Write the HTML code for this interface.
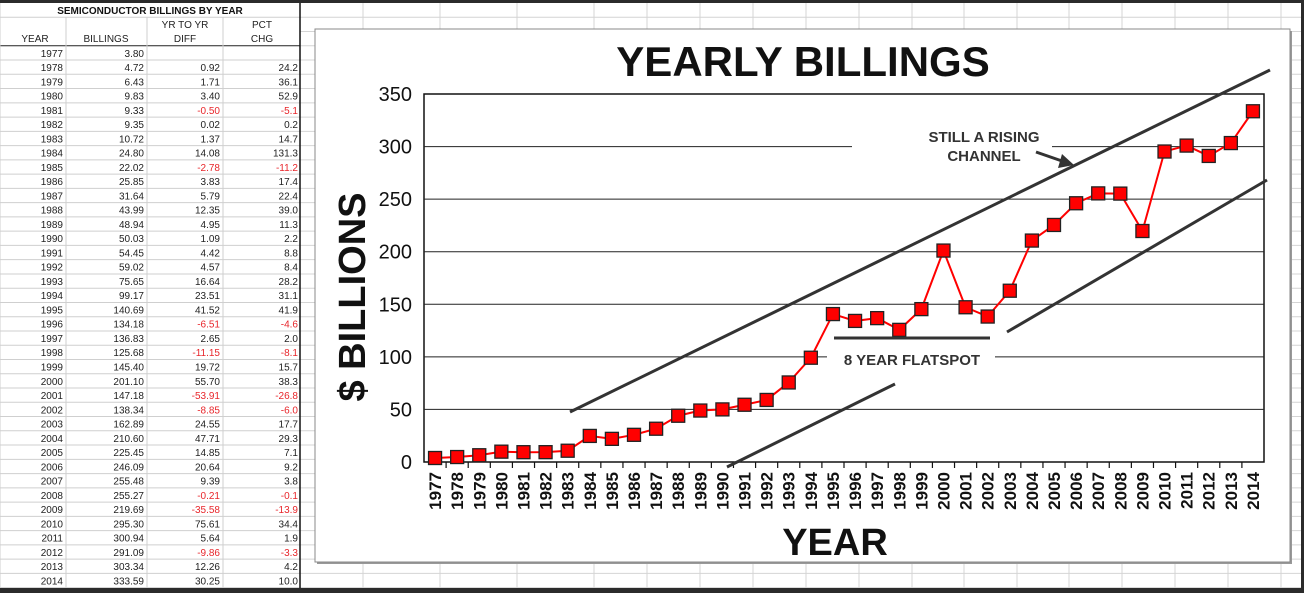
<!DOCTYPE html>
<html><head><meta charset="utf-8"><style>
html,body{margin:0;padding:0;background:#fff;}
svg{display:block;font-family:"Liberation Sans",sans-serif;}
</style></head><body>
<svg id="s" width="1304" height="593" viewBox="0 0 1304 593" xmlns="http://www.w3.org/2000/svg">
<rect width="1304" height="593" fill="#fff"/>
<g id="grid"></g>
<g id="table"></g>
<rect x="0" y="0" width="1304" height="3" fill="#2b2b2b"/>
<rect x="0" y="588" width="1304" height="5" fill="#2b2b2b"/>
<rect x="1301" y="0" width="3" height="593" fill="#2b2b2b"/>
<g id="chart">
<rect x="317" y="31" width="975" height="533" fill="#999"/>
<rect x="315" y="29" width="975" height="533" fill="#fff" stroke="#888" stroke-width="1"/>
</g>
</svg>
<script>
const years=[];for(let y=1977;y<=2014;y++)years.push(y);
const billings=[3.80,4.72,6.43,9.83,9.33,9.35,10.72,24.80,22.02,25.85,31.64,43.99,48.94,50.03,54.45,59.02,75.65,99.17,140.69,134.18,136.83,125.68,145.40,201.10,147.18,138.34,162.89,210.60,225.45,246.09,255.48,255.27,219.69,295.30,300.94,291.09,303.34,333.59];
const diffs=[null,0.92,1.71,3.40,-0.50,0.02,1.37,14.08,-2.78,3.83,5.79,12.35,4.95,1.09,4.42,4.57,16.64,23.51,41.52,-6.51,2.65,-11.15,19.72,55.70,-53.91,-8.85,24.55,47.71,14.85,20.64,9.39,-0.21,-35.58,75.61,5.64,-9.86,12.26,30.25];
const pcts=[null,24.2,36.1,52.9,-5.1,0.2,14.7,131.3,-11.2,17.4,22.4,39.0,11.3,2.2,8.8,8.4,28.2,31.1,41.9,-4.6,2.0,-8.1,15.7,38.3,-26.8,-6.0,17.7,29.3,7.1,9.2,3.8,-0.1,-13.9,34.4,1.9,-3.3,4.2,10.0];
const yTicks=[0,50,100,150,200,250,300,350];
const NS='http://www.w3.org/2000/svg';
function mk(tag,attrs,parent,text){const e=document.createElementNS(NS,tag);for(const k in attrs)e.setAttribute(k,attrs[k]);if(text!==undefined)e.textContent=text;parent.appendChild(e);return e;}
const grid=document.getElementById('grid'),table=document.getElementById('table'),chart=document.getElementById('chart');
const rowH=14.26;
for(let i=1;i<=41;i++){const y=3+i*rowH;const l=mk('line',{x1:300,x2:1301,y1:y,y2:y,stroke:'#d4d4d4','stroke-width':1},grid);}
[363,440,517,594,647,700,753,806,859,912,964,1017,1069,1122,1175,1228,1281].forEach(x=>{const l=mk('line',{x1:x,x2:x,y1:3,y2:588,stroke:'#d4d4d4','stroke-width':1},grid);});
const cols=[0,66,147,223,300];
for(let i=1;i<=41;i++){const y=3+i*rowH;if(i===1||i>=3)mk('line',{x1:0,x2:300,y1:y,y2:y,stroke:i===3?'#222':'#cfcfcf','stroke-width':1},table);}
cols.forEach((x,i)=>{mk('line',{x1:x,x2:x,y1:i===0||i===4?3:17,y2:588,stroke:i===4?'#111':'#cfcfcf','stroke-width':i===4?1.5:1},table);});
const tt=mk('text',{x:150,y:14,'text-anchor':'middle','font-size':10,'font-weight':'bold',fill:'#111'},table,'SEMICONDUCTOR BILLINGS BY YEAR');

const hs={'font-size':10,fill:'#222','text-anchor':'middle'};
mk('text',Object.assign({x:185,y:28},hs),table,'YR TO YR');
mk('text',Object.assign({x:262,y:28},hs),table,'PCT');
mk('text',Object.assign({x:35,y:42},hs),table,'YEAR');
mk('text',Object.assign({x:106,y:42},hs),table,'BILLINGS');
mk('text',Object.assign({x:185,y:42},hs),table,'DIFF');
mk('text',Object.assign({x:262,y:42},hs),table,'CHG');
years.forEach((yr,i)=>{const y=3+(i+3)*rowH+11;
 const g=mk('g',{},table);
 const s={'font-size':10,'text-anchor':'end'};
 mk('text',Object.assign({x:63,y:y,fill:'#222'},s),g,String(yr));
 mk('text',Object.assign({x:144,y:y,fill:'#222'},s),g,billings[i].toFixed(2));
 if(diffs[i]!==null){mk('text',Object.assign({x:220,y:y,fill:diffs[i]<0?'#e8262b':'#222'},s),g,diffs[i].toFixed(2));
 mk('text',Object.assign({x:298,y:y,fill:pcts[i]<0?'#e8262b':'#222'},s),g,pcts[i].toFixed(1));}
});
const PL=424,PR=1264,PT=94,PB=462,YMAX=350;
const sx=i=>PL+(i+0.5)*(PR-PL)/years.length;
const sy=v=>PB-v*(PB-PT)/YMAX;
const plot=mk('rect',{x:PL,y:PT,width:PR-PL,height:PB-PT,fill:'#fff',stroke:'#111','stroke-width':1.5},chart);

yTicks.forEach(t=>{
 if(t>0&&t<YMAX){
  const segs=t===300?[[PL,852],[1052,PR]]:(t===100?[[PL,827],[995,PR]]:[[PL,PR]]);
  segs.forEach(s=>{const l=mk('line',{x1:s[0],x2:s[1],y1:sy(t),y2:sy(t),stroke:'#222','stroke-width':1},chart);});
 }
 const tx=mk('text',{x:412,y:sy(t)+7,'text-anchor':'end','font-size':20,fill:'#111'},chart,String(t));
 
});
years.forEach((yr,i)=>{
 const xt=PL+i*(PR-PL)/years.length;
 if(i>0)mk('line',{x1:xt,x2:xt,y1:PB,y2:PB+6,stroke:'#111','stroke-width':1.2},chart);
 const t=mk('text',{transform:`translate(${sx(i)+6},${PB+10}) rotate(-90)`,'text-anchor':'end','font-size':17,'font-weight':'bold',fill:'#111'},chart,String(yr));
 
});
const pts=billings.map((v,i)=>sx(i)+','+sy(v)).join(' ');
const line=mk('polyline',{points:pts,fill:'none',stroke:'#f00','stroke-width':2},chart);

billings.forEach((v,i)=>{const m=mk('rect',{x:sx(i)-6.5,y:sy(v)-6.5,width:13,height:13,fill:'#f00',stroke:'#222','stroke-width':1.3},chart);
 });
[[570,412,1270,70],[727,467,895,384],[1007,332,1267,180]].forEach(c=>{const l=mk('line',{x1:c[0],y1:c[1],x2:c[2],y2:c[3],stroke:'#333','stroke-width':3},chart);});
const fs=mk('line',{x1:834,y1:338,x2:990,y2:338,stroke:'#333','stroke-width':3},chart);
const ar=mk('line',{x1:1036,y1:152,x2:1062,y2:161,stroke:'#333','stroke-width':3},chart);
const ah=mk('polygon',{points:'1074,165 1058,168 1062,154',fill:'#333'},chart);
const a1=mk('text',{x:984,y:142,'text-anchor':'middle','font-size':15,'font-weight':'bold',fill:'#333'},chart,'STILL A RISING');
const a2=mk('text',{x:984,y:161,'text-anchor':'middle','font-size':15,'font-weight':'bold',fill:'#333'},chart,'CHANNEL');
const a3=mk('text',{x:912,y:365,'text-anchor':'middle','font-size':15,'font-weight':'bold',fill:'#333'},chart,'8 YEAR FLATSPOT');
const ti=mk('text',{x:803,y:76,'text-anchor':'middle','font-size':42,'font-weight':'bold',fill:'#111'},chart,'YEARLY BILLINGS');
const yt=mk('text',{transform:'translate(365,297) rotate(-90)','text-anchor':'middle','font-size':38,'font-weight':'bold',fill:'#111'},chart,'$ BILLIONS');
const xt=mk('text',{x:835,y:555,'text-anchor':'middle','font-size':38,'font-weight':'bold',fill:'#111'},chart,'YEAR');
</script>
</body></html>
